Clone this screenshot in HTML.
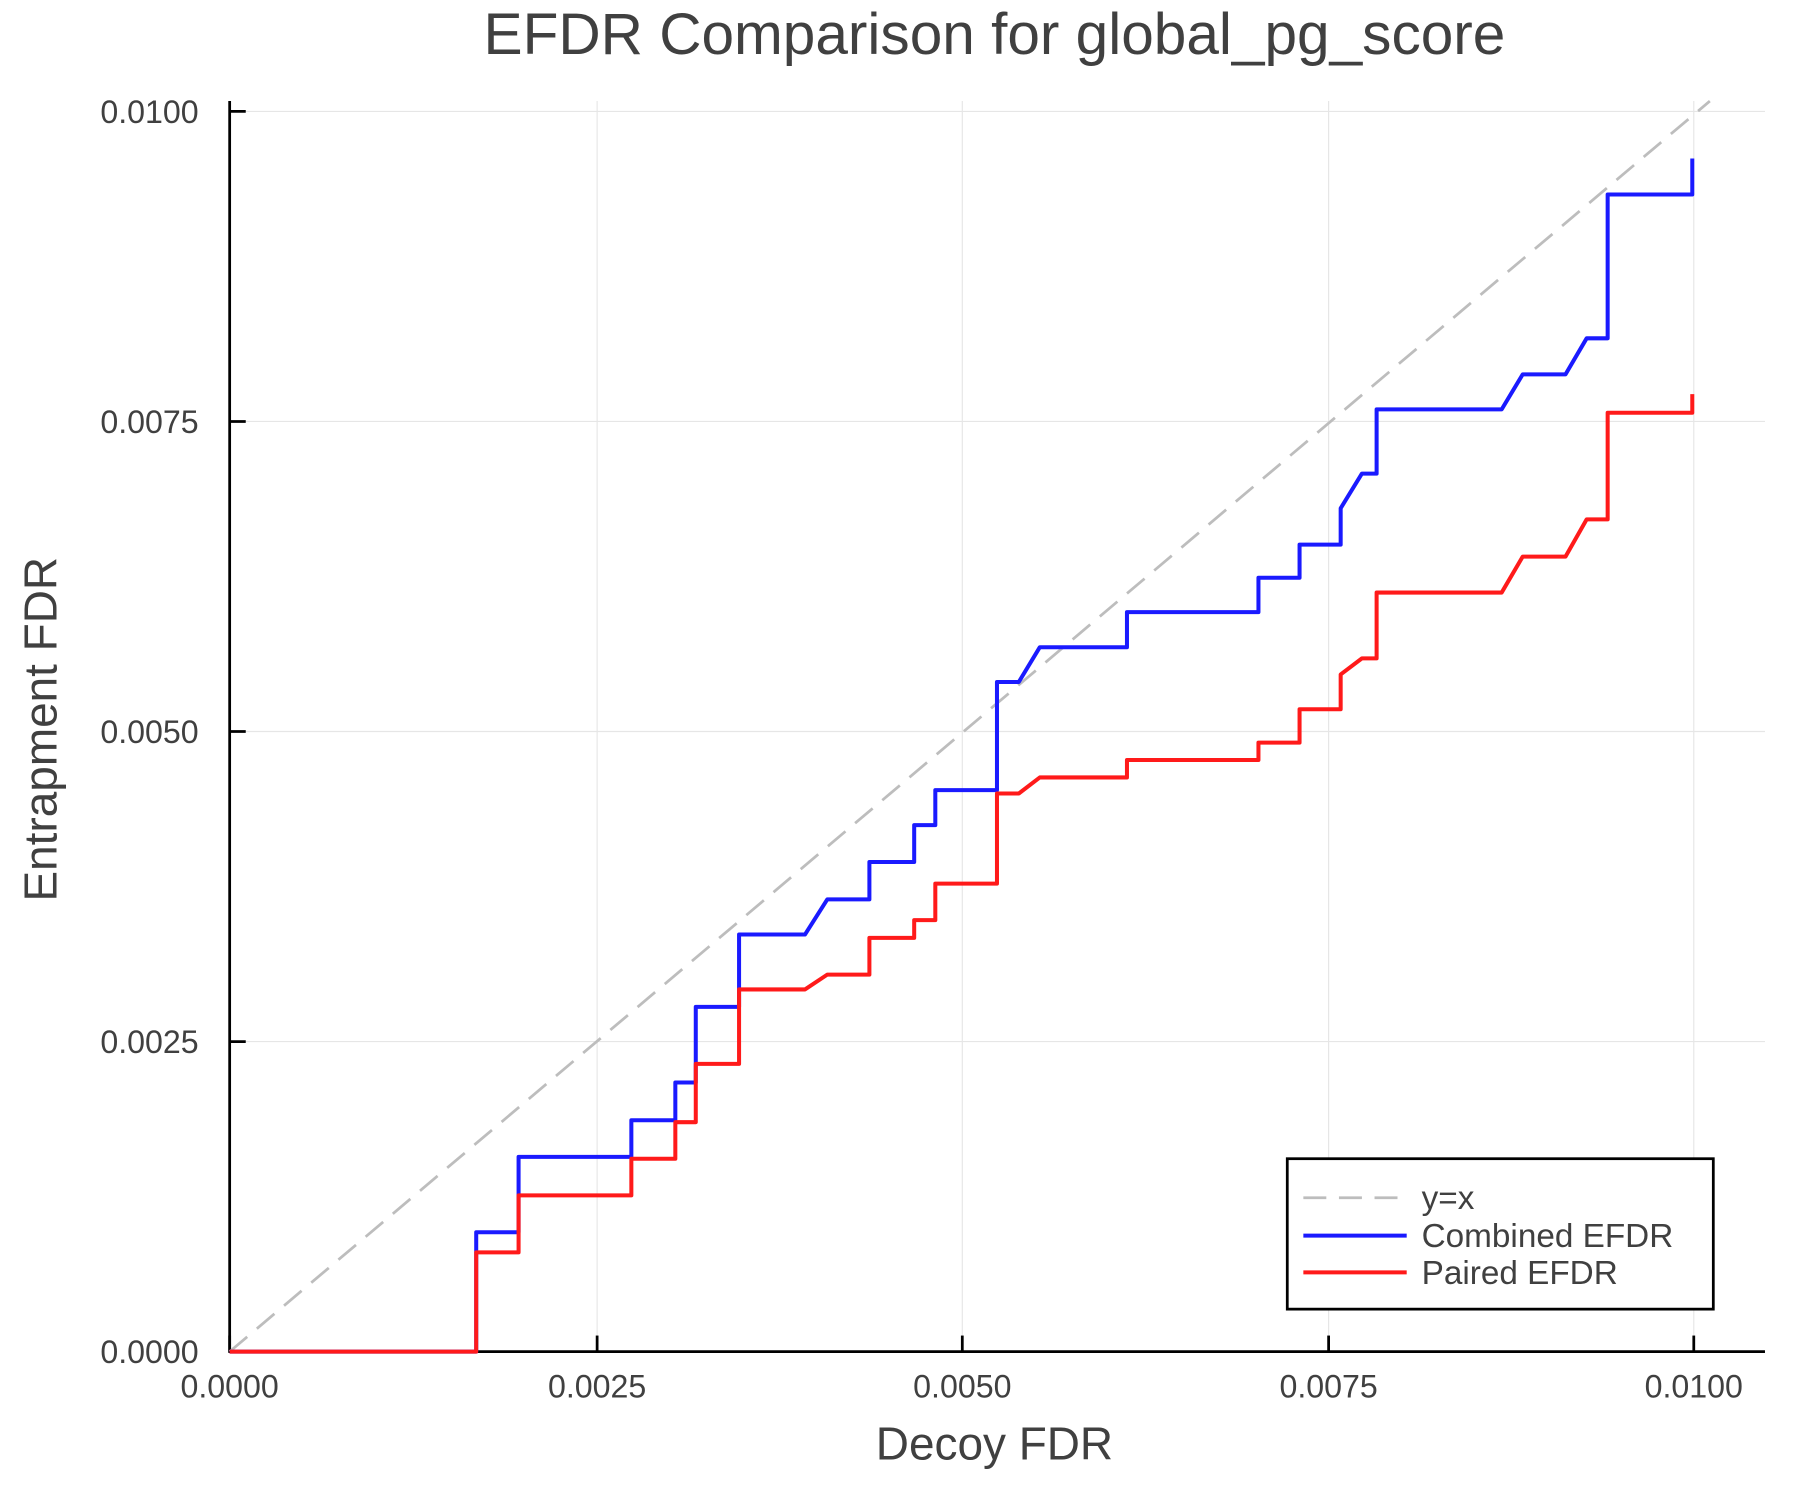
<!DOCTYPE html>
<html><head><meta charset="utf-8"><style>
html,body{margin:0;padding:0;background:#fff;}
svg{display:block;}
text{font-family:"Liberation Sans",sans-serif;fill:#404040;}
</style></head><body>
<svg width="1800" height="1500" viewBox="0 0 1567.5 1306.2" preserveAspectRatio="none" xmlns="http://www.w3.org/2000/svg">
<rect x="0" y="0" width="1568" height="1307" fill="#fff"/>
<g stroke="#e6e6e6" stroke-width="1">
<line x1="520" y1="88" x2="520" y2="1177"/>
<line x1="838" y1="88" x2="838" y2="1177"/>
<line x1="1157" y1="88" x2="1157" y2="1177"/>
<line x1="1475" y1="88" x2="1475" y2="1177"/>
<line x1="200" y1="907" x2="1537" y2="907"/>
<line x1="200" y1="637" x2="1537" y2="637"/>
<line x1="200" y1="367" x2="1537" y2="367"/>
<line x1="200" y1="97" x2="1537" y2="97"/>
</g>
<g stroke="#000" stroke-width="2.4">
<line x1="200" y1="88" x2="200" y2="1178"/>
<line x1="199" y1="1177" x2="1537" y2="1177"/>
<line x1="200" y1="1177" x2="200" y2="1163"/>
<line x1="520" y1="1177" x2="520" y2="1163"/>
<line x1="838" y1="1177" x2="838" y2="1163"/>
<line x1="1157" y1="1177" x2="1157" y2="1163"/>
<line x1="1475" y1="1177" x2="1475" y2="1163"/>
<line x1="200" y1="907" x2="214" y2="907"/>
<line x1="200" y1="637" x2="214" y2="637"/>
<line x1="200" y1="367" x2="214" y2="367"/>
<line x1="200" y1="97" x2="214" y2="97"/>
</g>
<g font-size="28" text-anchor="end">
<text x="173" y="1187">0.0000</text>
<text x="173" y="917">0.0025</text>
<text x="173" y="647">0.0050</text>
<text x="173" y="377">0.0075</text>
<text x="173" y="107">0.0100</text>
</g>
<g font-size="28" text-anchor="middle">
<text x="200" y="1217">0.0000</text>
<text x="520" y="1217">0.0025</text>
<text x="838" y="1217">0.0050</text>
<text x="1157" y="1217">0.0075</text>
<text x="1475" y="1217">0.0100</text>
</g>
<text x="866" y="47" font-size="51" text-anchor="middle">EFDR Comparison for global_pg_score</text>
<text x="866" y="1271" font-size="40" text-anchor="middle">Decoy FDR</text>
<text x="0" y="0" font-size="40" text-anchor="middle" transform="translate(49,635) rotate(-90)">Entrapment FDR</text>
<line x1="200" y1="1177" x2="1489" y2="88" stroke="#bdbdbd" stroke-width="2.4" stroke-dasharray="20,11"/>
<g transform="translate(3,0)">
<polyline fill="none" stroke="#1a1aff" stroke-width="3.5" stroke-linejoin="round" points="197,1177 411.7,1177 411.7,1073 448.6,1073 448.6,1007.4 546.8,1007.4 546.8,975.5 585.1,975.5 585.1,942.6 602.9,942.6 602.9,876.8 640.6,876.8 640.6,813.8 698,813.8 717.4,783.2 754.1,783.2 754.1,750.6 793.1,750.6 793.1,718.5 811.5,718.5 811.5,688 865.2,688 865.2,593.9 884.2,593.9 902.5,563.6 978.4,563.6 978.4,533 1092.9,533 1092.9,503.1 1128.7,503.1 1128.7,474.3 1164.5,474.3 1164.5,442.6 1183,412.4 1195.8,412.4 1195.8,356.5 1304.7,356.5 1323,326 1360.3,326 1378.7,294.6 1397,294.6 1397,169.4 1470.7,169.4 1470.7,138"/>
<polyline fill="none" stroke="#ff1a1a" stroke-width="3.5" stroke-linejoin="round" points="197,1177 411.7,1177 411.7,1090.6 448.6,1090.6 448.6,1040.9 546.8,1040.9 546.8,1009 585.1,1009 585.1,977.2 602.9,977.2 602.9,926.4 640.6,926.4 640.6,861.6 698,861.6 717.4,848.7 754.1,848.7 754.1,816.7 793.1,816.7 793.1,801.2 811.5,801.2 811.5,769.5 865.2,769.5 865.2,691 884.2,691 902.5,677 978.4,677 978.4,661.8 1092.9,661.8 1092.9,646.7 1128.7,646.7 1128.7,617.6 1164.5,617.6 1164.5,587.3 1183,573.3 1195.8,573.3 1195.8,516 1304.7,516 1323,484.7 1360.3,484.7 1378.7,452.3 1397,452.3 1397,359.4 1470.7,359.4 1470.7,343.2"/>
</g>
<rect x="1121" y="1009" width="371" height="131" fill="#fff" stroke="#000" stroke-width="2.4"/>
<line x1="1135" y1="1043" x2="1225" y2="1043" stroke="#bdbdbd" stroke-width="2.4" stroke-dasharray="20,11"/>
<line x1="1135" y1="1076" x2="1225" y2="1076" stroke="#1a1aff" stroke-width="3.5"/>
<line x1="1135" y1="1108" x2="1225" y2="1108" stroke="#ff1a1a" stroke-width="3.5"/>
<g font-size="29">
<text x="1238" y="1053">y=x</text>
<text x="1238" y="1086">Combined EFDR</text>
<text x="1238" y="1118">Paired EFDR</text>
</g>
</svg>
</body></html>
